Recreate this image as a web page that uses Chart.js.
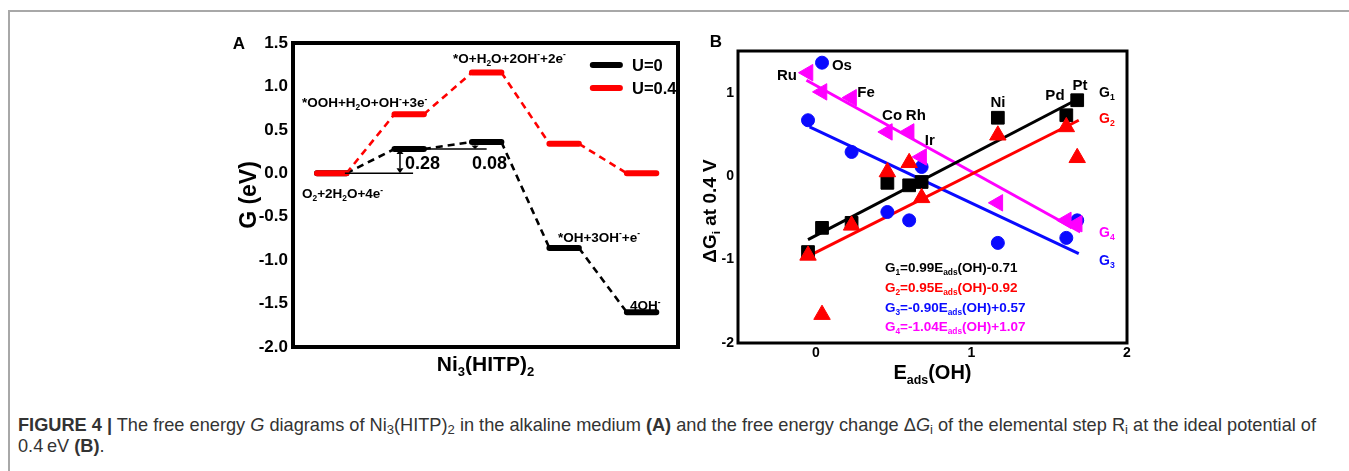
<!DOCTYPE html>
<html>
<head>
<meta charset="utf-8">
<script src="https://cdn.jsdelivr.net/npm/chart.js@4.4.1/dist/chart.umd.min.js"></script>
<style>
html,body{margin:0;padding:0;background:#fff;width:1349px;height:471px;overflow:hidden;position:relative;}
#frame{position:absolute;left:8px;top:10px;width:1345px;height:465px;border-left:2px solid #a8a8a8;border-top:2px solid #a8a8a8;}
#cA{position:absolute;left:0;top:0;}
#cB{position:absolute;left:690px;top:0;}
#cap{position:absolute;left:18px;top:415px;font-family:'Liberation Sans',Arial,sans-serif;font-size:18.2px;color:#333;line-height:21px;white-space:nowrap;}
#cap sub{font-size:0.72em;vertical-align:-0.25em;line-height:0;}
</style>
</head>
<body>
<div id="frame"></div>
<canvas id="cA" width="690" height="400"></canvas>
<canvas id="cB" width="659" height="400"></canvas>
<div id="cap"><b>FIGURE 4 |</b> The free energy <i>G</i> diagrams of Ni<sub>3</sub>(HITP)<sub>2</sub> in the alkaline medium <b>(A)</b> and the free energy change Δ<i>G</i><sub>i</sub> of the elemental step R<sub>i</sub> at the ideal potential of<br>0.4&#8201;eV <b>(B)</b>.</div>
<script>
// ---------------- DATA ----------------
// Panel A: free energy diagram
const stepLabels = ['O_{2}+2H_{2}O+4e^{-}', '*OOH+H_{2}O+OH^{-}+3e^{-}', '*O+H_{2}O+2OH^{-}+2e^{-}', '*OH+3OH^{-}+e^{-}', '4OH^{-}'];
const gU0  = [0.00, 0.28, 0.36, -0.86, -1.60];
const gU04 = [0.00, 0.68, 1.16, 0.34, 0.00];
const seriesA = ['U=0', 'U=0.4'];
const stepDiffLabels = ['0.28', '0.08'];

// Panel B: scaling relations
const metals  = ['Ru', 'Os', 'Fe', 'Co', 'Rh', 'Ir', 'Ni', 'Pd', 'Pt'];
const eadsOH  = [-0.05, 0.04, 0.23, 0.46, 0.60, 0.68, 1.17, 1.61, 1.68];
const dG1 = [-0.91, -0.62, -0.56, -0.08, -0.11, -0.07, 0.70, 0.73, 0.91];
const dG2 = [-0.95, -1.66, -0.59, 0.05, 0.16, -0.26, 0.49, 0.59, 0.22];
const dG3 = [0.67, 1.36, 0.29, -0.43, -0.53, 0.11, -0.80, -0.74, -0.53];
const dG4 = [1.24, 1.01, 0.94, 0.53, 0.53, 0.23, -0.32, -0.53, -0.57];
// fitted lines (end points)
const fit1X = [-0.05, 1.67], fit1Y = [-0.76, 0.91];
const fit2X = [-0.07, 1.69], fit2Y = [-0.98, 0.67];
const fit3X = [-0.04, 1.69], fit3Y = [0.59, -0.93];
const fit4X = [-0.06, 1.70], fit4Y = [1.15, -0.67];
const fitEquations = ['G_{1}=0.99E_{ads}(OH)-0.71', 'G_{2}=0.95E_{ads}(OH)-0.92', 'G_{3}=-0.90E_{ads}(OH)+0.57', 'G_{4}=-1.04E_{ads}(OH)+1.07'];
const seriesB = ['G_{1}', 'G_{2}', 'G_{3}', 'G_{4}'];
const yTicksB = [-2, -1, 0, 1];
const xTicksB = [0, 1, 2];

// ---------------- helpers ----------------
const FAM = "'Liberation Sans', Arial, Helvetica, sans-serif";
const BLACK = '#000000', RED = '#ff0000', BLUE = '#0a0aff', MAG = '#ff00ff';

function richParts(s){
  const out=[]; let i=0;
  while(i<s.length){
    if((s[i]==='_'||s[i]==='^') && s[i+1]==='{'){
      const j=s.indexOf('}',i); out.push({t:s.slice(i+2,j),k:s[i]==='_'?'sub':'sup'}); i=j+1;
    } else {
      let j=i; while(j<s.length && !((s[j]==='_'||s[j]==='^')&&s[j+1]==='{')) j++;
      out.push({t:s.slice(i,j),k:'n'}); i=j;
    }
  }
  return out;
}
function drawRich(ctx, s, x, y, size, color, align, weight){
  align = align||'left'; weight = weight||'bold';
  const parts = richParts(s);
  const fN = weight+' '+size+'px '+FAM, fS = weight+' '+(size*0.62).toFixed(2)+'px '+FAM;
  let w=0;
  parts.forEach(p=>{ctx.font = p.k==='n'?fN:fS; p.w = ctx.measureText(p.t).width; w+=p.w;});
  let cx = align==='center' ? x-w/2 : (align==='right' ? x-w : x);
  ctx.textAlign='left'; ctx.textBaseline='alphabetic'; ctx.fillStyle=color;
  const base = y + size*0.36;
  parts.forEach(p=>{
    ctx.font = p.k==='n'?fN:fS;
    const dy = p.k==='sub' ? size*0.24 : (p.k==='sup' ? -size*0.40 : 0);
    ctx.fillText(p.t, cx, base+dy); cx+=p.w;
  });
}
function drawRichRot(ctx, s, x, y, size, color){
  ctx.save(); ctx.translate(x,y); ctx.rotate(-Math.PI/2);
  drawRich(ctx, s, 0, 0, size, color, 'center'); ctx.restore();
}

// ---------------- PANEL A ----------------
const HW = 0.19;
function levelData(g){ const d=[]; g.forEach((v,i)=>{ d.push({x:i+1-HW,y:v},{x:i+1+HW,y:v},{x:i+1.45,y:null}); }); return d; }
function linkData(g){ const d=[]; for(let i=0;i<g.length-1;i++){ d.push({x:i+1+HW,y:g[i]},{x:i+2-HW,y:g[i+1]},{x:i+1.95,y:null}); } return d; }

const plugA = {
  id:'plugA',
  afterDraw(chart){
    const ctx=chart.ctx, ca=chart.chartArea, xs=chart.scales.x, ys=chart.scales.y;
    const X=v=>xs.getPixelForValue(v), Y=v=>ys.getPixelForValue(v);
    ctx.save();
    // frame
    ctx.strokeStyle='#000'; ctx.lineWidth=4;
    ctx.strokeRect(ca.left, ca.top, ca.right-ca.left, ca.bottom-ca.top);
    // reference lines and arrows
    ctx.lineWidth=1.5; ctx.strokeStyle='#000'; ctx.fillStyle='#000';
    ctx.beginPath();
    ctx.moveTo(X(1+HW-0.02), Y(gU0[0])); ctx.lineTo(X(2.05), Y(gU0[0]));
    ctx.moveTo(X(2+HW), Y(gU0[1])); ctx.lineTo(X(3.0), Y(gU0[1]));
    ctx.stroke();
    function dArrow(xv, y1, y2){
      const x=X(xv), a=Y(y1), b=Y(y2); const top=Math.min(a,b), bot=Math.max(a,b);
      const h=Math.min(5,(bot-top)/2.2);
      ctx.beginPath(); ctx.moveTo(x, top+h); ctx.lineTo(x, bot-h); ctx.stroke();
      ctx.beginPath(); ctx.moveTo(x, top); ctx.lineTo(x-3.5, top+h); ctx.lineTo(x+3.5, top+h); ctx.closePath(); ctx.fill();
      ctx.beginPath(); ctx.moveTo(x, bot); ctx.lineTo(x-3.5, bot-h); ctx.lineTo(x+3.5, bot-h); ctx.closePath(); ctx.fill();
    }
    dArrow(1.881, gU0[0], gU0[1]);
    dArrow(2.85, gU0[1], gU0[2]);
    drawRich(ctx, stepDiffLabels[0], X(1.946), Y(0.12), 18, '#000');
    drawRich(ctx, stepDiffLabels[1], X(2.81), Y(0.12), 18, '#000');
    // state labels
    const lp = [[0.616,-0.23],[0.616,0.82],[2.566,1.33],[3.92,-0.73],[4.85,-1.52]];
    stepLabels.forEach((s,i)=>drawRich(ctx, s, X(lp[i][0]), Y(lp[i][1]), 13.5, '#000'));
    // legend
    const lg = [[1.247, BLACK],[0.982, RED]];
    lg.forEach((l,i)=>{
      ctx.strokeStyle=l[1]; ctx.lineWidth=6; ctx.lineCap='round';
      ctx.beginPath(); ctx.moveTo(X(4.37), Y(l[0])); ctx.lineTo(X(4.72), Y(l[0])); ctx.stroke();
      drawRich(ctx, seriesA[i], X(4.876), Y(l[0]), 16.5, '#000');
    });
    // axis titles & panel letter
    drawRich(ctx, 'Ni_{3}(HITP)_{2}', (ca.left+ca.right)/2, ca.bottom+16, 21, '#000', 'center');
    drawRichRot(ctx, 'G (eV)', ca.left-45, 195, 23, '#000');
    drawRich(ctx, 'A', ca.left-54, ca.top, 17, '#000', 'center');
    ctx.restore();
  }
};

new Chart(document.getElementById('cA'), {
  type:'line',
  data:{ datasets:[
    {label:seriesA[1], data:levelData(gU04), borderColor:RED, borderWidth:6, borderCapStyle:'round', pointRadius:0, spanGaps:false, order:1},
    {label:seriesA[0], data:levelData(gU0), borderColor:BLACK, borderWidth:6, borderCapStyle:'round', pointRadius:0, spanGaps:false, order:2},
    {label:seriesA[1]+' link', data:linkData(gU04), borderColor:RED, borderWidth:2.6, borderDash:[7,5], pointRadius:0, spanGaps:false, order:3},
    {label:seriesA[0]+' link', data:linkData(gU0), borderColor:BLACK, borderWidth:2.6, borderDash:[7,5], pointRadius:0, spanGaps:false, order:4}
  ]},
  options:{
    responsive:false, animation:false, devicePixelRatio:1,
    layout:{padding:{left:233, right:12, top:43, bottom:43}},
    plugins:{legend:{display:false}, tooltip:{enabled:false}},
    scales:{
      x:{type:'linear', min:0.5, max:5.47, grid:{display:false, drawTicks:false}, border:{display:false}, ticks:{display:false}, afterFit(s){s.height=10;}},
      y:{type:'linear', min:-2, max:1.5, grid:{display:false, drawTicks:false}, border:{display:false},
         ticks:{stepSize:0.5, padding:5, color:'#000', font:{family:FAM, size:17, weight:'bold'}, callback:v=>Number(v).toFixed(1)},
         afterFit(s){s.width=60;}}
    }
  },
  plugins:[plugA]
});

// ---------------- PANEL B ----------------
const pts = (ys)=>eadsOH.map((x,i)=>({x:x, y:ys[i]}));
const seg = (xs, ys)=>xs.map((x,i)=>({x:x, y:ys[i]}));

const plugB = {
  id:'plugB',
  afterDraw(chart){
    const ctx=chart.ctx, ca=chart.chartArea, xs=chart.scales.x, ys=chart.scales.y;
    const X=v=>xs.getPixelForValue(v), Y=v=>ys.getPixelForValue(v);
    ctx.save();
    ctx.strokeStyle='#000'; ctx.lineWidth=3;
    ctx.strokeRect(ca.left, ca.top, ca.right-ca.left, ca.bottom-ca.top);
    // metal labels
    const mp = [[-0.185,1.212],[0.168,1.332],[0.323,1.008],[0.49,0.732],[0.643,0.732],[0.733,0.433],[1.171,0.888],[1.537,0.972],[1.698,1.092]];
    metals.forEach((m,i)=>drawRich(ctx, m, X(mp[i][0]), Y(mp[i][1]), 15, '#000', 'center'));
    // series labels
    const gl = [[1.008, BLACK],[0.696, RED],[-1.006, BLUE],[-0.67, MAG]];
    seriesB.forEach((s,i)=>drawRich(ctx, s, X(1.82), Y(gl[i][0]), 14, gl[i][1]));
    // equations
    const ec = [BLACK, RED, BLUE, MAG], ey = [-1.09, -1.33, -1.57, -1.80];
    fitEquations.forEach((s,i)=>drawRich(ctx, s, X(0.444), Y(ey[i]), 13.5, ec[i]));
    // titles
    drawRich(ctx, 'E_{ads}(OH)', (ca.left+ca.right)/2, ca.bottom+29, 20, '#000', 'center');
    drawRichRot(ctx, '\u0394G_{i} at 0.4 V', ca.left-29, 211, 19, '#000');
    drawRich(ctx, 'B', ca.left-22, ca.top-10, 17, '#000', 'center');
    ctx.restore();
  }
};

new Chart(document.getElementById('cB'), {
  type:'scatter',
  data:{ datasets:[
    {label:'G2', data:pts(dG2), pointStyle:'triangle', pointRadius:9.5, backgroundColor:RED, borderColor:RED, pointBorderWidth:1, order:0},
    {label:'G4', data:pts(dG4), pointStyle:'triangle', rotation:270, pointRadius:9.5, backgroundColor:MAG, borderColor:MAG, pointBorderWidth:1, order:1},
    {label:'G1', data:pts(dG1), pointStyle:'rect', pointRadius:9, backgroundColor:BLACK, borderColor:BLACK, pointBorderWidth:1, order:2},
    {label:'G3', data:pts(dG3), pointStyle:'circle', pointRadius:6.5, backgroundColor:BLUE, borderColor:BLUE, pointBorderWidth:1, order:3},
    {label:'fit1', data:seg(fit1X, fit1Y), showLine:true, borderColor:BLACK, borderWidth:3, pointRadius:0, order:10},
    {label:'fit2', data:seg(fit2X, fit2Y), showLine:true, borderColor:RED, borderWidth:3, pointRadius:0, order:10},
    {label:'fit3', data:seg(fit3X, fit3Y), showLine:true, borderColor:BLUE, borderWidth:3, pointRadius:0, order:10},
    {label:'fit4', data:seg(fit4X, fit4Y), showLine:true, borderColor:MAG, borderWidth:3, pointRadius:0, order:10}
  ]},
  options:{
    responsive:false, animation:false, devicePixelRatio:1,
    layout:{padding:{left:18, right:222, top:51, bottom:37}},
    plugins:{legend:{display:false}, tooltip:{enabled:false}},
    scales:{
      x:{type:'linear', min:-0.5, max:2, grid:{display:false, drawTicks:false}, border:{display:false},
         afterBuildTicks(s){ s.ticks = xTicksB.map(v=>({value:v})); },
         ticks:{padding:2, color:'#000', font:{family:FAM, size:14, weight:'bold'}, maxRotation:0},
         afterFit(s){s.height=20;}},
      y:{type:'linear', min:-2, max:1.5, grid:{display:false, drawTicks:false}, border:{display:false},
         afterBuildTicks(s){ s.ticks = yTicksB.map(v=>({value:v})); },
         ticks:{padding:4, color:'#000', font:{family:FAM, size:14, weight:'bold'}},
         afterFit(s){s.width=30;}}
    }
  },
  plugins:[plugB]
});
</script>
</body>
</html>
